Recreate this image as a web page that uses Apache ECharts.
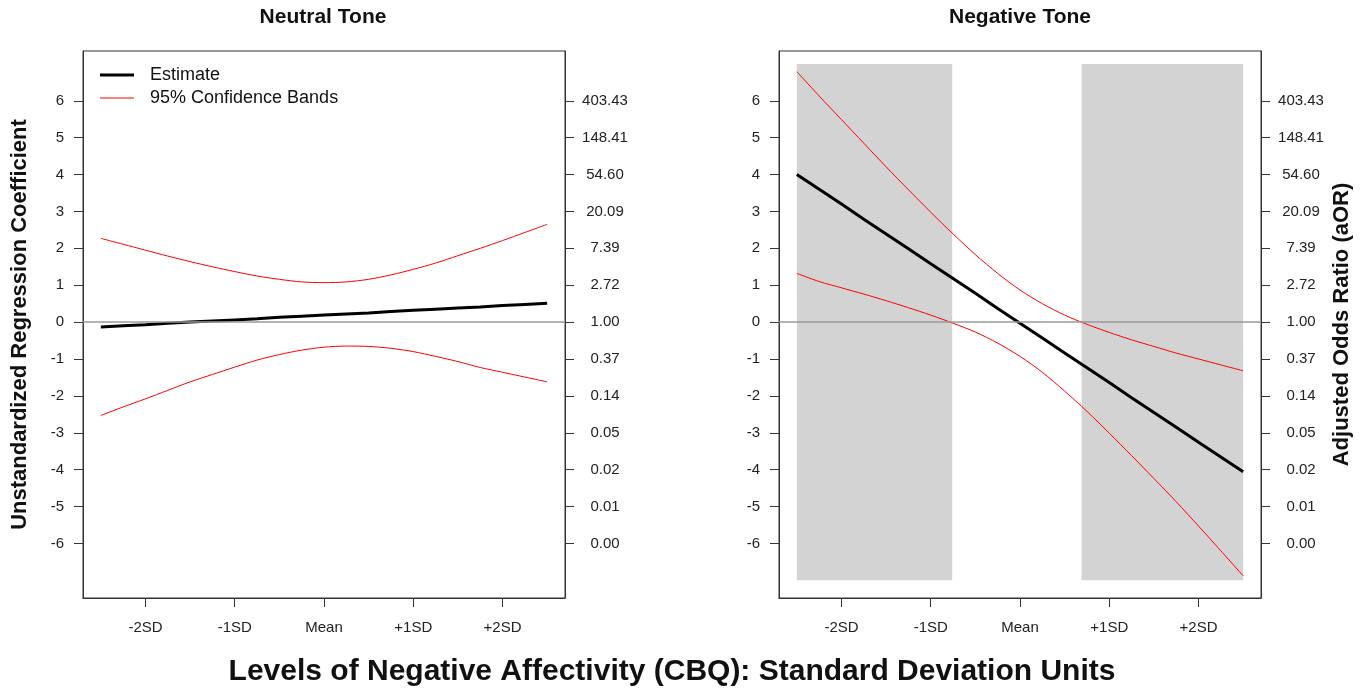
<!DOCTYPE html>
<html>
<head>
<meta charset="utf-8">
<script src="https://cdn.jsdelivr.net/npm/echarts@6/dist/echarts.min.js"></script>
<style>
html,body{margin:0;padding:0;background:#fff;}
#chart{width:1368px;height:694px;}
</style>
</head>
<body>
<div id="chart"></div>
<script>
// ---- data ----
const xLevels = [-2.5,-2.25,-2,-1.75,-1.5,-1.25,-1,-0.75,-0.5,-0.25,0,0.25,0.5,0.75,1,1.25,1.5,1.75,2,2.25,2.5];

const neutralEstimate = [-0.13,-0.10,-0.07,-0.03,0.00,0.03,0.06,0.09,0.13,0.16,0.19,0.22,0.25,0.29,0.32,0.35,0.38,0.41,0.45,0.48,0.51];
const neutralUpper    = [2.27,2.11,1.95,1.79,1.64,1.50,1.37,1.25,1.16,1.09,1.07,1.09,1.16,1.28,1.43,1.60,1.80,2.00,2.21,2.43,2.65];
const neutralLower    = [-2.53,-2.30,-2.08,-1.85,-1.62,-1.42,-1.22,-1.03,-0.88,-0.76,-0.68,-0.65,-0.66,-0.71,-0.80,-0.93,-1.07,-1.23,-1.36,-1.49,-1.62];

const negativeEstimate = [4.00,3.60,3.20,2.79,2.39,1.99,1.58,1.18,0.78,0.37,-0.03,-0.43,-0.84,-1.24,-1.64,-2.05,-2.45,-2.85,-3.26,-3.66,-4.06];
const negativeUpper    = [6.79,6.13,5.49,4.85,4.21,3.59,2.98,2.39,1.83,1.32,0.87,0.50,0.19,-0.06,-0.28,-0.48,-0.66,-0.84,-1.00,-1.16,-1.32];
const negativeLower    = [1.32,1.10,0.93,0.76,0.58,0.39,0.19,-0.03,-0.27,-0.57,-0.93,-1.36,-1.87,-2.42,-3.01,-3.62,-4.24,-4.87,-5.53,-6.20,-6.88];

// regions of significance (Johnson-Neyman) shaded in the Negative Tone panel
const shadeXStart = [-2.5, 0.69];
const shadeXEnd   = [-0.76, 2.5];
const shadeYRange = [-7, 7];

const xTickValues = [-2,-1,0,1,2];
const xTickLabels = ['-2SD','-1SD','Mean','+1SD','+2SD'];
const yTickValues = [-6,-5,-4,-3,-2,-1,0,1,2,3,4,5,6];
const yTickLabels = ['-6','-5','-4','-3','-2','-1','0','1','2','3','4','5','6'];
const oddsTickLabels = ['0.00','0.01','0.02','0.05','0.14','0.37','1.00','2.72','7.39','20.09','54.60','148.41','403.43'];

const panelTitles = ['Neutral Tone','Negative Tone'];
const xTitle = 'Levels of Negative Affectivity (CBQ): Standard Deviation Units';
const yTitleLeft = 'Unstandardized Regression Coefficient';
const yTitleRight = 'Adjusted Odds Ratio (aOR)';

// ---- chart ----
const FONT = 'Liberation Sans, Arial, sans-serif';
const AXIS_COLOR = '#333';
const pairs = (ys) => xLevels.map((x, i) => [x, ys[i]]);

const grids = [
  {left: 83, top: 51, width: 482, height: 547},
  {left: 779, top: 51, width: 482, height: 547}
];

function xAxisFor(gi){
  return {
    type: 'value', gridIndex: gi, min: -2.7, max: 2.7,
    axisLine: {show: true, onZero: false, lineStyle: {color: AXIS_COLOR, width: 1}},
    axisTick: {show: true, length: 9, customValues: xTickValues, lineStyle: {color: AXIS_COLOR}},
    axisLabel: {customValues: xTickValues, margin: 22, fontSize: 15, fontFamily: FONT, color: '#222',
      formatter: (v) => xTickLabels[xTickValues.indexOf(v)]},
    splitLine: {show: false}
  };
}
function yAxisFor(gi, side, labels, name, gap){
  const ax = {
    type: 'value', gridIndex: gi, position: side, min: -7.48, max: 7.35,
    axisLine: {show: true, onZero: false, lineStyle: {color: AXIS_COLOR, width: 1}},
    axisTick: {show: true, length: 9, customValues: yTickValues, lineStyle: {color: AXIS_COLOR}},
    axisLabel: {customValues: yTickValues, fontSize: 15, fontFamily: FONT, color: '#222',
      margin: side === 'left' ? 19 : 40, align: side === 'left' ? 'right' : 'center',
      formatter: (v) => labels[yTickValues.indexOf(v)]},
    splitLine: {show: false}
  };
  if (name) {
    Object.assign(ax, {name: name, nameLocation: 'middle', nameGap: gap, nameRotate: 90,
      nameTextStyle: {fontSize: 22, fontWeight: 'bold', fontFamily: FONT, color: '#111'}});
  }
  return ax;
}

const zeroLine = {
  silent: true, symbol: 'none', label: {show: false},
  lineStyle: {color: '#9a9a9a', width: 1.5, type: 'solid'},
  data: [{yAxis: 0}]
};

const option = {
  animation: false,
  backgroundColor: '#fff',
  grid: grids.map(g => Object.assign({show: true, borderColor: AXIS_COLOR, borderWidth: 1, backgroundColor: 'transparent'}, g)),
  xAxis: [xAxisFor(0), xAxisFor(1)],
  yAxis: [
    yAxisFor(0, 'left', yTickLabels, yTitleLeft, 52),
    yAxisFor(0, 'right', oddsTickLabels, null, 0),
    yAxisFor(1, 'left', yTickLabels, null, 0),
    yAxisFor(1, 'right', oddsTickLabels, yTitleRight, 70)
  ],
  legend: {
    orient: 'vertical', left: 95, top: 61, itemWidth: 34, itemHeight: 14, itemGap: 5,
    symbolKeepAspect: true,
    textStyle: {fontSize: 18, fontFamily: FONT, color: '#111', padding: [0, 0, 0, 11]},
    data: [
      {name: 'Estimate', icon: 'path://M0,0 H34 V3 H0 Z', itemStyle: {color: '#000'}},
      {name: '95% Confidence Bands', icon: 'path://M0,0 H34 V1 H0 Z', itemStyle: {color: '#ff0000'}}
    ]
  },
  series: [
    // Neutral Tone panel
    {type: 'line', name: 'zero-n', xAxisIndex: 0, yAxisIndex: 0, data: [], markLine: zeroLine, z: 2},
    {type: 'line', name: '95% Confidence Bands', xAxisIndex: 0, yAxisIndex: 0, data: pairs(neutralUpper),
      symbol: 'none', smooth: 0.3, lineStyle: {color: '#ff0000', width: 1}, itemStyle: {color: '#ff0000'}, z: 3},
    {type: 'line', name: '95% Confidence Bands', xAxisIndex: 0, yAxisIndex: 0, data: pairs(neutralLower),
      symbol: 'none', smooth: 0.3, lineStyle: {color: '#ff0000', width: 1}, itemStyle: {color: '#ff0000'}, z: 3},
    {type: 'line', name: 'Estimate', xAxisIndex: 0, yAxisIndex: 0, data: pairs(neutralEstimate),
      symbol: 'none', lineStyle: {color: '#000', width: 3}, itemStyle: {color: '#000'}, z: 4},
    // Negative Tone panel
    {type: 'line', name: 'shade', xAxisIndex: 1, yAxisIndex: 2, data: [], z: 1,
      markArea: {silent: true, itemStyle: {color: '#d3d3d3'},
        data: shadeXStart.map((x0, i) => [{coord: [x0, shadeYRange[0]]}, {coord: [shadeXEnd[i], shadeYRange[1]]}])},
      markLine: zeroLine},
    {type: 'line', name: '95% Confidence Bands', xAxisIndex: 1, yAxisIndex: 2, data: pairs(negativeUpper),
      symbol: 'none', smooth: 0.3, lineStyle: {color: '#ff0000', width: 1}, itemStyle: {color: '#ff0000'}, z: 3},
    {type: 'line', name: '95% Confidence Bands', xAxisIndex: 1, yAxisIndex: 2, data: pairs(negativeLower),
      symbol: 'none', smooth: 0.3, lineStyle: {color: '#ff0000', width: 1}, itemStyle: {color: '#ff0000'}, z: 3},
    {type: 'line', name: 'Estimate', xAxisIndex: 1, yAxisIndex: 2, data: pairs(negativeEstimate),
      symbol: 'none', lineStyle: {color: '#000', width: 3}, itemStyle: {color: '#000'}, z: 4}
  ],
  graphic: [
    {type: 'text', x: 323, y: 17, style: {text: panelTitles[0], align: 'center', verticalAlign: 'middle',
      fontSize: 21, fontWeight: 'bold', fontFamily: FONT, fill: '#111'}},
    {type: 'text', x: 1020, y: 17, style: {text: panelTitles[1], align: 'center', verticalAlign: 'middle',
      fontSize: 21, fontWeight: 'bold', fontFamily: FONT, fill: '#111'}},
    {type: 'text', x: 672, y: 672, style: {text: xTitle, align: 'center', verticalAlign: 'middle',
      fontSize: 30, fontWeight: 'bold', fontFamily: FONT, fill: '#111'}}
  ]
};

const chart = echarts.init(document.getElementById('chart'), null, {renderer: 'canvas'});
chart.setOption(option);
</script>
</body>
</html>
